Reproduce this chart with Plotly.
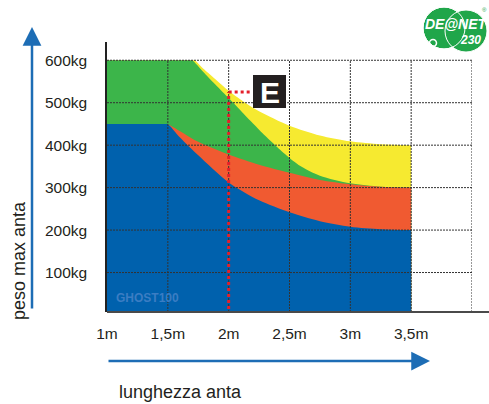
import plotly.graph_objects as go

# ---------------- data ----------------
x_tickvals = [1, 1.5, 2, 2.5, 3, 3.5]
x_ticktext = ["1m", "1,5m", "2m", "2,5m", "3m", "3,5m"]
x_gridvals = [1.5, 2, 2.5, 3, 3.5, 4]
y_tickvals = [100, 200, 300, 400, 500, 600]
y_ticktext = ["100kg", "200kg", "300kg", "400kg", "500kg", "600kg"]

# door length (m) -> max leaf weight (kg), one band per colour
yellow_x = [1.0, 1.71, 1.72, 1.80, 1.90, 2.0, 2.12, 2.25, 2.5, 2.75, 3.0, 3.25, 3.5]
yellow_y = [600, 600, 600, 578, 553, 528, 503, 480, 446, 423, 409, 402, 400]
green_x = [1.0, 1.69, 1.70, 1.80, 1.90, 2.0, 2.1, 2.2, 2.3, 2.4, 2.5, 2.6, 2.75, 3.0, 3.25, 3.5]
green_y = [600, 600, 600, 570, 540, 511, 481, 451, 422, 395, 370, 349, 328, 310, 302, 300]
red_x = [1.5, 1.6, 1.75, 2.0, 2.25, 2.5, 2.75, 3.0, 3.25, 3.5]
red_y = [450, 433, 408, 378, 354, 335, 318, 308, 302, 300]
blue_x = [1.0, 1.49, 1.5, 1.6, 1.75, 2.0, 2.25, 2.5, 2.75, 3.0, 3.25, 3.5]
blue_y = [450, 450, 450, 418, 376, 312, 270, 242, 221, 208, 202, 200]

# example marker "E"
marker_len = 2.0
marker_kg = 525
marker_label = "E"

model_name = "GHOST100"
x_title = "lunghezza anta"
y_title = "peso max anta"

# ---------------- layout geometry ----------------
W, H = 489, 404
L, R, T, B = 107, 17, 42, 92
PW, PH = W - L - R, H - T - B
X_RANGE = [1, 4]
Y_RANGE = [7, 643]


def px(x, y):
    """pixel -> paper coords"""
    return (x - L) / PW, (H - B - y) / PH


FONT = "Liberation Sans, Arial, Helvetica, sans-serif"
BLUE_ARROW = "#1d6db5"

fig = go.Figure()
bands = [
    (yellow_x, yellow_y, "#f6ea30"),
    (green_x, green_y, "#3cb54a"),
    (red_x, red_y, "#f05a31"),
    (blue_x, blue_y, "#0061ad"),
]
for xs, ys, col in bands:
    fig.add_trace(go.Scatter(x=xs, y=ys, mode="lines", fill="tozeroy",
                             fillcolor=col, line=dict(width=0, color=col, shape="spline", smoothing=0.8),
                             hoverinfo="skip", showlegend=False))

shapes = []
# grid (drawn above the bands)
for gx in x_gridvals:
    shapes.append(dict(type="line", xref="x", yref="y", x0=gx, x1=gx,
                       y0=Y_RANGE[0], y1=max(y_tickvals), layer="above",
                       line=dict(color="#333333", width=1, dash="2px,1px")))
for gy in y_tickvals:
    shapes.append(dict(type="line", xref="x", yref="y", x0=X_RANGE[0], x1=max(x_gridvals),
                       y0=gy, y1=gy, layer="above",
                       line=dict(color="#333333", width=1, dash="2px,1px")))
# bottom axis line extending past the plot
bx0, by0 = px(L, H - B)
bx1, _ = px(489, H - B)
shapes.append(dict(type="line", xref="paper", yref="paper", x0=bx0, x1=bx1, y0=by0, y1=by0,
                   layer="above", line=dict(color="#4a4a4a", width=2)))
# red dotted marker lines
shapes.append(dict(type="line", xref="x", yref="y", x0=marker_len, x1=marker_len,
                   y0=0, y1=marker_kg, layer="above",
                   line=dict(color="#e4202a", width=3, dash="3px,3px")))
shapes.append(dict(type="line", xref="x", yref="y", x0=marker_len, x1=marker_len + 0.19,
                   y0=marker_kg, y1=marker_kg, layer="above",
                   line=dict(color="#e4202a", width=3, dash="3px,3px")))
# E box
ex0, ey0 = px(253, 108)
ex1, ey1 = px(286, 75)
shapes.append(dict(type="rect", xref="paper", yref="paper", x0=ex0, x1=ex1, y0=ey0, y1=ey1,
                   layer="above", fillcolor="#231f20", line=dict(width=0)))

# logo circles
def circ(cx, cy, r, **kw):
    x0, y0 = px(cx - r, cy + r)
    x1, y1 = px(cx + r, cy - r)
    d = dict(type="circle", xref="paper", yref="paper", x0=x0, x1=x1, y0=y0, y1=y1, layer="above")
    d.update(kw)
    return d

shapes.append(circ(444, 28, 21, fillcolor="#20a64a", line=dict(color="white", width=1)))
shapes.append(circ(466, 31, 21, fillcolor="#20a64a", line=dict(color="white", width=1)))
shapes.append(circ(444, 28, 21, fillcolor="rgba(0,0,0,0)", line=dict(color="white", width=1)))
shapes.append(circ(433, 43, 3.5, fillcolor="rgba(0,0,0,0)", line=dict(color="white", width=1.5)))

annotations = []
# E letter
cx, cy = px(270, 92)
annotations.append(dict(xref="paper", yref="paper", x=cx, y=cy, text="<b>%s</b>" % marker_label,
                        showarrow=False, font=dict(family=FONT, size=30, color="white"),
                        xanchor="center", yanchor="middle"))
# model watermark
gx_, gy_ = px(147, 298)
annotations.append(dict(xref="paper", yref="paper", x=gx_, y=gy_, text="<b>%s</b>" % model_name,
                        showarrow=False, font=dict(family=FONT, size=12, color="#3b7dc3"),
                        xanchor="center", yanchor="middle"))
# axis titles
tx, ty = px(180, 392)
annotations.append(dict(xref="paper", yref="paper", x=tx, y=ty, text=x_title, showarrow=False,
                        font=dict(family=FONT, size=18, color="#231f20"),
                        xanchor="center", yanchor="middle"))
tx, ty = px(19, 261)
annotations.append(dict(xref="paper", yref="paper", x=tx, y=ty, text=y_title, showarrow=False,
                        textangle=-90, font=dict(family=FONT, size=18, color="#231f20"),
                        xanchor="center", yanchor="middle"))
# arrows
ax_, ay_ = px(32, 27)
annotations.append(dict(xref="paper", yref="paper", x=ax_, y=ay_, ax=0, ay=283, text="",
                        showarrow=True, arrowhead=2, arrowsize=1.5, arrowwidth=2.5,
                        arrowcolor=BLUE_ARROW))
ax_, ay_ = px(430, 361)
annotations.append(dict(xref="paper", yref="paper", x=ax_, y=ay_, ax=-323, ay=0, text="",
                        showarrow=True, arrowhead=2, arrowsize=1.5, arrowwidth=2.5,
                        arrowcolor=BLUE_ARROW))
# logo texts
lx, ly = px(456, 24)
annotations.append(dict(xref="paper", yref="paper", x=lx, y=ly, text="<b><i>DE@NET</i></b>",
                        showarrow=False, font=dict(family=FONT, size=14, color="white"),
                        xanchor="center", yanchor="middle"))
lx, ly = px(470, 40)
annotations.append(dict(xref="paper", yref="paper", x=lx, y=ly, text="<b><i>230</i></b>",
                        showarrow=False, font=dict(family=FONT, size=12, color="white"),
                        xanchor="center", yanchor="middle"))
lx, ly = px(484, 10)
annotations.append(dict(xref="paper", yref="paper", x=lx, y=ly, text="®",
                        showarrow=False, font=dict(family=FONT, size=6, color="#20a64a"),
                        xanchor="center", yanchor="middle"))

fig.update_layout(
    width=W, height=H,
    margin=dict(l=L, r=R, t=T, b=B, pad=0),
    paper_bgcolor="white", plot_bgcolor="white",
    showlegend=False,
    font=dict(family=FONT, size=15, color="#231f20"),
    xaxis=dict(range=X_RANGE, tickvals=x_tickvals, ticktext=x_ticktext,
               showgrid=False, zeroline=False, showline=False, ticks="",
               ticklabelstandoff=10, tickfont=dict(size=15.5, color="#231f20"), fixedrange=True),
    yaxis=dict(range=Y_RANGE, tickvals=y_tickvals, ticktext=y_ticktext,
               showgrid=False, zeroline=False, showline=True, linecolor="#222222", linewidth=1.5,
               ticks="", ticklabelstandoff=15, tickfont=dict(size=15.5, color="#231f20"),
               fixedrange=True),
    shapes=shapes,
    annotations=annotations,
)

fig.write_html("out.html", config={"displayModeBar": False},
               post_script="document.body.style.margin='0';document.body.style.overflow='hidden';")
